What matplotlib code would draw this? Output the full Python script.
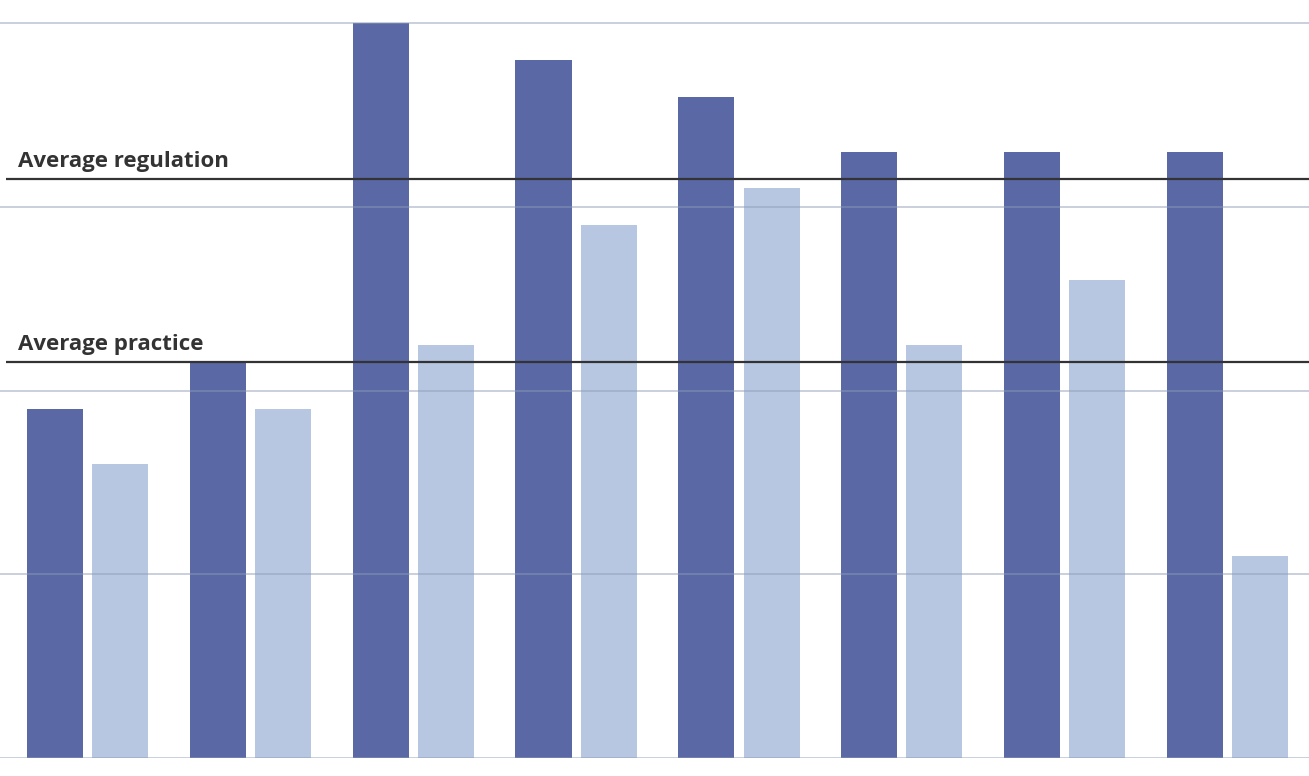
import matplotlib
matplotlib.use('Agg')
import matplotlib.pyplot as plt
import numpy as np

# values (gridlines every 1 unit, 0..4)
groups = list(range(8))
regulation = [1.9, 2.15, 4.0, 3.8, 3.6, 3.3, 3.3, 3.3]
practice = [1.6, 1.9, 2.25, 2.9, 3.1, 2.25, 2.6, 1.1]
avg_regulation = 3.15
avg_practice = 2.155
grid_values = [0, 1, 2, 3, 4]

dark = '#5a68a6'
light = '#b7c7e2'

fig = plt.figure(figsize=(13.09, 7.76), dpi=100)
ax = fig.add_axes([0, 18 / 776, 1, 758 / 776])

x = np.arange(len(groups))
w = 0.344
ax.bar(x - 0.2, regulation, width=w, color=dark, zorder=2)
ax.bar(x + 0.2, practice, width=w, color=light, zorder=2)

for g in grid_values:
    ax.axhline(g, color='#8c9bb5', alpha=0.5, lw=1.3, zorder=3)

x0 = -0.537 + 6 / 162.9
for val, label in [(avg_regulation, 'Average regulation'), (avg_practice, 'Average practice')]:
    ax.plot([x0, 7.6], [val, val], color='#333333', lw=1.6, zorder=4, solid_capstyle='butt')
    ax.text(-0.537 + 18 / 162.9, val + 0.04, label, fontsize=16, fontweight='bold',
            family=['Open Sans', 'DejaVu Sans'], color='#333333', va='bottom', ha='left')

ax.set_xlim(-0.537, 7.5)
ax.set_ylim(0, 758 / 735 * 4)
ax.axis('off')

fig.savefig('out.png', dpi=100)
